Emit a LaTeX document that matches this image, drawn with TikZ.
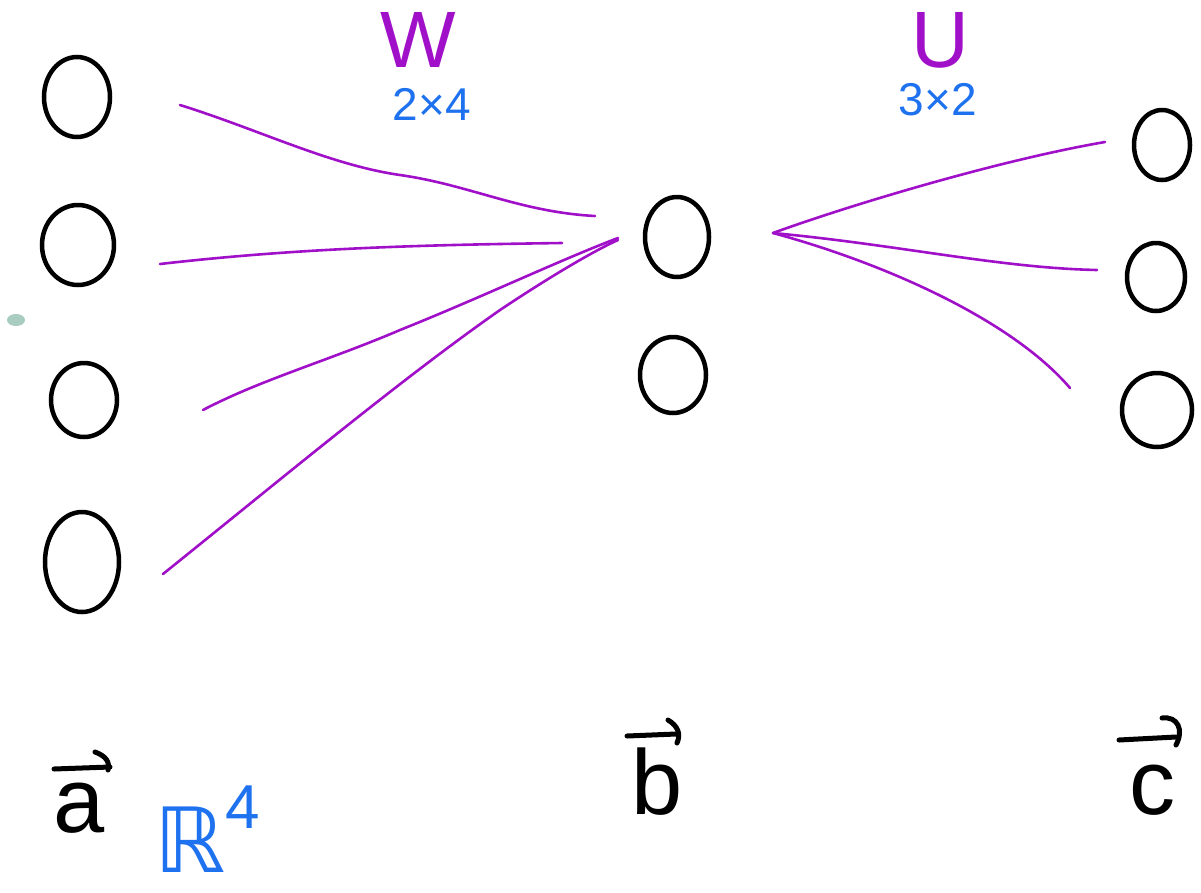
\documentclass[tikz,border=0pt]{standalone}
\usepackage{fontspec}
\setmainfont{Liberation Sans}
\newfontfamily\djv{DejaVu Sans}
\usetikzlibrary{shapes.geometric}
\definecolor{purp}{HTML}{A010C8}
\definecolor{blu}{HTML}{1E72F0}
\definecolor{grn}{HTML}{A8CCC0}
\tikzset{
  neuron/.style={draw=black, line width=4.5pt, ellipse, inner sep=0pt},
  wire/.style={draw=purp, line width=2.6pt, line cap=round},
  matname/.style={text=purp, font=\fontsize{80}{80}\selectfont},
  dims/.style={text=blu, font=\fontsize{46}{46}\selectfont},
  veclab/.style={text=black, inner sep=0pt, font=\fontsize{92}{92}\selectfont},
  vecarrow/.style={draw=black, line width=5pt, line cap=round},
}
\begin{document}
\begin{tikzpicture}[x=1pt,y=-1pt]
\useasboundingbox (0,0) rectangle (1201,892);
% neurons
\node[neuron, minimum width=66pt, minimum height=80pt] (a1) at (77,97) {};
\node[neuron, minimum width=72pt, minimum height=80pt] (a2) at (78,245) {};
\node[neuron, minimum width=66pt, minimum height=74pt] (a3) at (84,400) {};
\node[neuron, minimum width=74pt, minimum height=100pt] (a4) at (82,562) {};
\node[neuron, minimum width=64pt, minimum height=80pt] (b1) at (677,237) {};
\node[neuron, minimum width=66pt, minimum height=76pt] (b2) at (673,375) {};
\node[neuron, minimum width=56pt, minimum height=70pt] (c1) at (1162,145) {};
\node[neuron, minimum width=58pt, minimum height=68pt] (c2) at (1156,277) {};
\node[neuron, minimum width=70pt, minimum height=74pt] (c3) at (1157,410) {};
% green dot
\fill[grn] (16,320) ellipse (9pt and 6pt);
% wire ends
\coordinate (w1s) at (180,105); \coordinate (w1e) at (595,216);
\coordinate (w2s) at (160,264); \coordinate (w2e) at (562,243);
\coordinate (w3s) at (203,410); \coordinate (w3e) at (618,238);
\coordinate (w4s) at (163,574); \coordinate (w4e) at (618,240);
\coordinate (u0) at (773,233);
\coordinate (u1e) at (1105,142);
\coordinate (u2e) at (1097,270);
\coordinate (u3e) at (1070,388);
% wires W
\draw[wire] (w1s) .. controls (260,130) and (330,165) .. (400,175) .. controls (470,185) and (520,212) .. (w1e);
\draw[wire] (w2s) .. controls (300,248) and (420,245) .. (w2e);
\draw[wire] (w3s) .. controls (260,380) and (330,360) .. (400,330) .. controls (480,298) and (560,260) .. (w3e);
\draw[wire] (w4s) .. controls (280,480) and (400,380) .. (500,310) .. controls (560,270) and (600,248) .. (w4e);
% wires U
\draw[wire] (u0) .. controls (850,205) and (1000,160) .. (u1e);
\draw[wire] (u0) .. controls (900,245) and (1000,268) .. (u2e);
\draw[wire] (u0) .. controls (880,262) and (1010,318) .. (u3e);
% labels
\node[matname] (W) at (418,40) {W};
\node[dims] (Wd) at (432,104) {2×4};
\node[matname] (U) at (940,40) {U};
\node[dims] (Ud) at (938,100) {3×2};
% vector letters
\node[veclab] (va) at (79,808) {a};
\node[veclab] (vb) at (657,782) {b};
\node[veclab] (vc) at (1152,790) {c};
% vector arrows
\coordinate (aL) at (54,769); \coordinate (aR) at (110,767);
\draw[vecarrow] (aL) -- (aR);
\draw[vecarrow] (95,752) .. controls (106,756) and (110,762) .. (108,770);
\coordinate (bL) at (627,736); \coordinate (bR) at (676,734);
\draw[vecarrow] (bL) -- (bR);
\draw[vecarrow] (668,720) .. controls (678,726) and (681,734) .. (677,743);
\coordinate (cL) at (1119,740); \coordinate (cR) at (1176,737);
\draw[vecarrow] (cL) -- (cR);
\draw[vecarrow] (1162,718) .. controls (1178,716) and (1184,730) .. (1176,745);
% R^4
\node[text=blu, anchor=base west, inner sep=0pt, text depth=0pt] (R4) at (154,872) {{\djv\fontsize{90}{90}\selectfont ℝ}\raisebox{44pt}{\fontsize{62}{62}\selectfont 4}};
\end{tikzpicture}
\end{document}
